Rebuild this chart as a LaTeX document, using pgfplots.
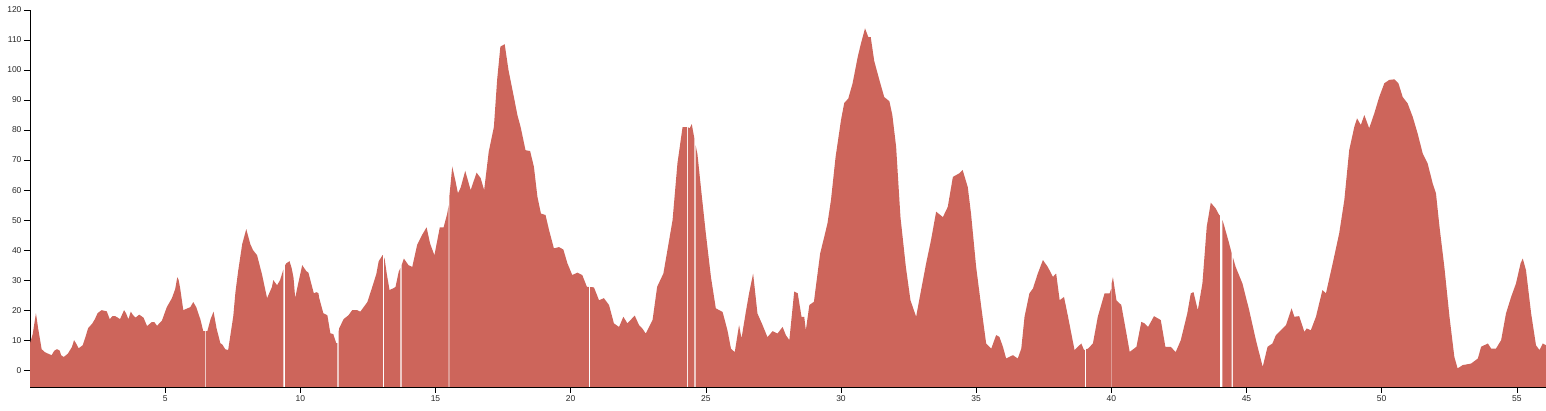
\documentclass[border=0pt]{standalone}
\usepackage{fontspec}
\setmainfont{Liberation Sans}
\usepackage{pgfplots}
\pgfplotsset{compat=1.18}
\definecolor{areared}{RGB}{205,101,91}
\definecolor{ticktext}{RGB}{40,40,40}
\begin{document}
\begin{tikzpicture}[x=1pt,y=1pt]
\begin{axis}[
  at={(0,0)}, anchor=south west,
  scale only axis, width=1516pt, height=377pt,
  xmin=0, xmax=56.08, ymin=-5.6, ymax=120,
  axis x line=bottom, axis y line=left,
  axis line style={-, black, line width=0.8pt},
  xtick={5,10,...,55}, ytick={0,10,...,120},
  tick align=outside, major tick length=6pt,
  tick style={black, line width=0.6pt},
  /pgf/number format/assume math mode=true,
  ticklabel style={font=\fontsize{8.5}{10}\selectfont, text=ticktext},
  yticklabel style={xshift=1pt},
  xticklabel style={yshift=1pt},
  clip=true,
]
\addplot[fill=areared, draw=none] coordinates {
(0,-10) (0,9) (0.1,12) (0.22,19) (0.3,14) (0.43,7) (0.55,6) (0.67,5.5) (0.8,5) (0.9,6.5) (1.0,7) (1.1,6.5) (1.15,5) (1.25,4.4) (1.4,5.5) (1.55,7.7) (1.63,10) (1.7,9) (1.8,7.3) (1.95,8.3) (2.05,11) (2.15,14) (2.3,15.5) (2.4,17) (2.5,19) (2.65,20) (2.84,19.6) (2.95,17) (3.05,18) (3.15,18) (3.25,17.5) (3.33,17) (3.48,20) (3.55,19) (3.64,17) (3.73,19.5) (3.8,18.5) (3.9,17.5) (4.04,18.5) (4.12,18) (4.2,17.5) (4.33,14.7) (4.5,16) (4.6,16) (4.7,14.8) (4.88,16.5) (5.06,21) (5.25,24) (5.37,27) (5.45,31) (5.5,30) (5.56,27) (5.67,20) (5.8,20.5) (5.93,21) (6.04,22.7) (6.15,21) (6.3,17) (6.41,13)
(6.49,13) (6.49,-10) (6.515,-10) (6.515,13)
(6.56,13) (6.68,17) (6.79,19.5) (6.9,14) (7.04,9) (7.12,8.5) (7.22,7) (7.33,6.7) (7.52,18) (7.6,26) (7.7,33) (7.85,42) (8.0,47) (8.15,42) (8.25,40) (8.4,38.3) (8.58,32) (8.77,24) (8.95,27.7) (9.0,30) (9.14,28.3) (9.25,30) (9.33,32.3)
(9.37,33.5) (9.37,-10) (9.44,-10) (9.44,35)
(9.48,35.6) (9.6,36.3) (9.68,34) (9.75,30.7) (9.81,24) (9.9,28) (10.07,35) (10.22,33) (10.3,32.5) (10.4,29) (10.5,25.6) (10.6,26) (10.67,25.6) (10.7,24) (10.85,19) (11.0,18.3) (11.11,12.3) (11.22,12) (11.33,9)
(11.37,9) (11.37,-10) (11.42,-10) (11.42,13)
(11.44,14) (11.6,17) (11.78,18.3) (11.92,20) (12.1,20) (12.22,19.5) (12.48,22.7) (12.66,27.7) (12.81,32) (12.9,36.3) (13.04,38.3)
(13.05,38.3) (13.05,-10) (13.1,-10) (13.1,37.5)
(13.12,37) (13.2,32) (13.3,26.7) (13.44,27.3) (13.52,27.7) (13.64,32.8)
(13.7,34) (13.7,-10) (13.75,-10) (13.75,35)
(13.83,37.2) (14.0,35) (14.14,34.4) (14.32,41.7) (14.5,45) (14.67,47.6) (14.8,42.2) (14.96,38.3) (15.16,47.6) (15.3,47.6) (15.43,52)
(15.49,55) (15.49,-10) (15.515,-10) (15.515,58)
(15.62,67.8) (15.74,63) (15.83,58.9) (15.93,60.8) (16.1,66.4) (16.3,60) (16.52,65.8) (16.67,64) (16.8,60) (16.97,72.8) (17.16,81) (17.28,96.7) (17.4,107.8) (17.56,108.6) (17.7,100) (17.9,91) (18.03,85) (18.15,81) (18.33,73.3) (18.5,73) (18.64,67.8) (18.77,57.8) (18.9,52.2) (19.07,51.7) (19.2,46.7) (19.38,40.6) (19.57,41) (19.73,40.2) (19.88,35.6) (20.06,31.7) (20.25,32.5) (20.43,31.7) (20.6,27.8)
(20.67,27.7) (20.67,-10) (20.72,-10) (20.72,27.7)
(20.86,27.6) (21.05,23.3) (21.23,24) (21.42,21.7) (21.6,15.6) (21.79,14.4) (21.95,17.8) (22.1,15.6) (22.37,18.2) (22.53,15) (22.65,13.9) (22.78,12.2) (22.9,14.4) (23.03,16.7) (23.2,27.8) (23.43,32.2) (23.58,40) (23.77,50) (23.95,68.9) (24.14,81) (24.28,81)
(24.3,81) (24.3,-10) (24.34,-10) (24.34,81)
(24.4,80.5) (24.48,82) (24.56,78)
(24.58,77) (24.58,-10) (24.62,-10) (24.62,75)
(24.69,72) (24.84,59) (25.0,45.6) (25.19,31) (25.37,20.6) (25.62,19.4) (25.8,13.3) (25.93,7.2) (26.07,6) (26.23,15) (26.32,10.6) (26.48,19.4) (26.6,25.6) (26.75,32.2) (26.91,18.9) (27.1,15) (27.28,11) (27.47,13) (27.65,12.2) (27.84,14.4) (27.96,11.7) (28.09,10) (28.27,26.2) (28.4,25.6) (28.54,17.8) (28.64,17.8) (28.7,13.3) (28.83,21.7) (29.0,22.8) (29.07,27.8) (29.23,38.9) (29.38,44.4) (29.5,48.9) (29.63,56.7) (29.8,71) (30.0,83.3) (30.12,89) (30.27,90.5) (30.43,95.6) (30.62,104.4) (30.74,108.9) (30.89,113.9) (31.01,111) (31.1,111) (31.23,103) (31.42,96.7) (31.6,91) (31.79,89.6) (31.9,85) (32.04,74.4) (32.2,51) (32.4,34.4) (32.57,23.3) (32.78,17.8) (32.94,25.6) (33.15,35.6) (33.33,43.3) (33.52,52.8) (33.77,51) (33.95,54.4) (34.14,64.4) (34.38,65.6) (34.5,66.7) (34.69,61) (34.81,52.2) (35.0,34.4) (35.19,21) (35.37,8.9) (35.56,7.2) (35.74,11.7) (35.86,11.1) (35.99,7.8) (36.11,3.9) (36.36,5) (36.54,3.9) (36.67,7.2) (36.79,17.8) (36.97,25.6) (37.1,27.2) (37.28,32.2) (37.47,36.7) (37.65,34.4) (37.84,31.1) (37.96,32.2) (38.09,23.3) (38.25,24.4) (38.4,17.8) (38.64,6.7) (38.89,8.9) (38.99,6.7)
(39.02,6.8) (39.02,-10) (39.07,-10) (39.07,7)
(39.14,7.2) (39.32,8.9) (39.5,17.8) (39.75,25.6) (39.94,25.6)
(39.99,27) (39.99,-10) (40.015,-10) (40.015,29)
(40.06,31) (40.19,23.3) (40.37,21.7) (40.56,12.2) (40.68,6.1) (40.93,7.8) (41.11,16.1) (41.23,15.6) (41.36,14.4) (41.58,18) (41.83,16.7) (42.0,7.8) (42.2,7.8) (42.38,6) (42.57,10) (42.81,18.9) (42.94,25.6) (43.04,26) (43.2,20) (43.37,28.9) (43.53,47.8) (43.68,55.8) (43.86,53.9) (43.99,51.7)
(44.02,51.5) (44.02,-10) (44.11,-10) (44.11,50)
(44.17,48.3) (44.36,42.2)
(44.45,39) (44.45,-10) (44.5,-10) (44.5,37.5)
(44.6,34.4) (44.85,28.9) (45.1,20) (45.35,10) (45.6,1.1) (45.78,7.8) (45.96,8.9) (46.09,11.7) (46.27,13.3) (46.46,15) (46.67,20.6) (46.77,17.8) (46.95,18) (47.14,12.8) (47.23,13.9) (47.38,13.3) (47.57,17.8) (47.81,26.7) (47.94,25.6) (48.19,35.6) (48.43,45.6) (48.62,56.7) (48.8,73.3) (48.99,81.1) (49.09,83.9) (49.23,81.7) (49.36,85) (49.54,80.6) (49.73,85.6) (49.91,91) (50.1,95.6) (50.28,96.7) (50.47,96.9) (50.62,95.6) (50.78,91) (50.96,88.9) (51.15,84.4) (51.33,78.9) (51.52,72.2) (51.7,68.9) (51.89,62.2) (52.01,58.9) (52.14,47.8) (52.32,34.4) (52.51,17.8) (52.69,4.4) (52.81,0.6) (53.0,1.7) (53.31,2.2) (53.56,3.9) (53.68,7.8) (53.93,8.9) (54.05,7.2) (54.23,7.2) (54.42,10) (54.6,18.9) (54.79,24.4) (54.97,28.9) (55.14,35.6) (55.22,37.2) (55.34,33.3) (55.53,18.9) (55.71,8.3) (55.84,6.7) (55.96,8.9) (56.08,8.3) (56.08,-10)
};
\end{axis}
\pgfresetboundingbox
\useasboundingbox (-30pt,-24pt) rectangle (1516pt,387pt);
\end{tikzpicture}
\end{document}
